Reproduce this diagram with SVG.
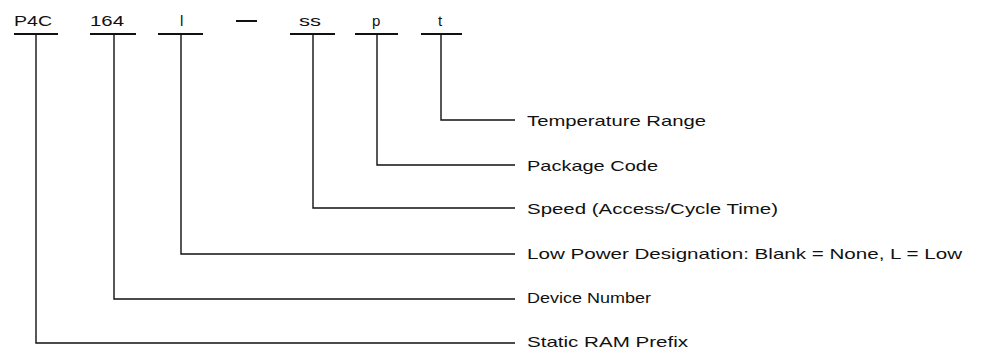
<svg xmlns="http://www.w3.org/2000/svg" width="995" height="353" viewBox="0 0 995 353">
<style>
.code{font-family:"Liberation Sans",Arial,sans-serif;font-size:15px;fill:#111}
.lbl{font-family:"Liberation Sans",Arial,sans-serif;font-size:15px;fill:#111}
.ul{stroke:#111;stroke-width:2;fill:none}
.ln{stroke:#111;stroke-width:1.4;fill:none}
</style>
<rect width="995" height="353" fill="#fff"/>
<g id="codes">
<g id="code-p4c"><text class="code" x="14" y="26" textLength="38" lengthAdjust="spacingAndGlyphs">P4C</text><line class="ul" x1="14" y1="34" x2="58" y2="34"/></g>
<g id="code-164"><text class="code" x="90" y="26" textLength="34" lengthAdjust="spacingAndGlyphs">164</text><line class="ul" x1="90" y1="34" x2="136" y2="34"/></g>
<g id="code-l"><text class="code" x="180" y="26">l</text><line class="ul" x1="158" y1="34" x2="203" y2="34"/></g>
<g id="code-dash"><line x1="236" y1="21" x2="257" y2="21" stroke="#111" stroke-width="2"/></g>
<g id="code-ss"><text class="code" x="299" y="26" textLength="22" lengthAdjust="spacingAndGlyphs">ss</text><line class="ul" x1="290" y1="34" x2="335" y2="34"/></g>
<g id="code-p"><text class="code" x="372" y="26">p</text><line class="ul" x1="355" y1="34" x2="398" y2="34"/></g>
<g id="code-t"><text class="code" x="438" y="26">t</text><line class="ul" x1="421" y1="34" x2="462" y2="34"/></g>
</g>
<g id="connectors">
<polyline class="ln" points="441,34 441,120 515,120"/>
<polyline class="ln" points="377,34 377,165 515,165"/>
<polyline class="ln" points="313,34 313,208 515,208"/>
<polyline class="ln" points="181,34 181,254 515,254"/>
<polyline class="ln" points="114,34 114,299 515,299"/>
<polyline class="ln" points="36,34 36,343 515,343"/>
</g>
<g id="labels">
<g id="lbl-temp"><text class="lbl" x="527" y="126" textLength="179" lengthAdjust="spacingAndGlyphs">Temperature Range</text></g>
<g id="lbl-pkg"><text class="lbl" x="527" y="171" textLength="131" lengthAdjust="spacingAndGlyphs">Package Code</text></g>
<g id="lbl-speed"><text class="lbl" x="527" y="214" textLength="251" lengthAdjust="spacingAndGlyphs">Speed (Access/Cycle Time)</text></g>
<g id="lbl-lp"><text class="lbl" x="527" y="259" textLength="435" lengthAdjust="spacingAndGlyphs">Low Power Designation: Blank = None, L = Low</text></g>
<g id="lbl-dev"><text class="lbl" x="527" y="303" textLength="124" lengthAdjust="spacingAndGlyphs">Device Number</text></g>
<g id="lbl-sram"><text class="lbl" x="527" y="347" textLength="161" lengthAdjust="spacingAndGlyphs">Static RAM Prefix</text></g>
</g>
</svg>
